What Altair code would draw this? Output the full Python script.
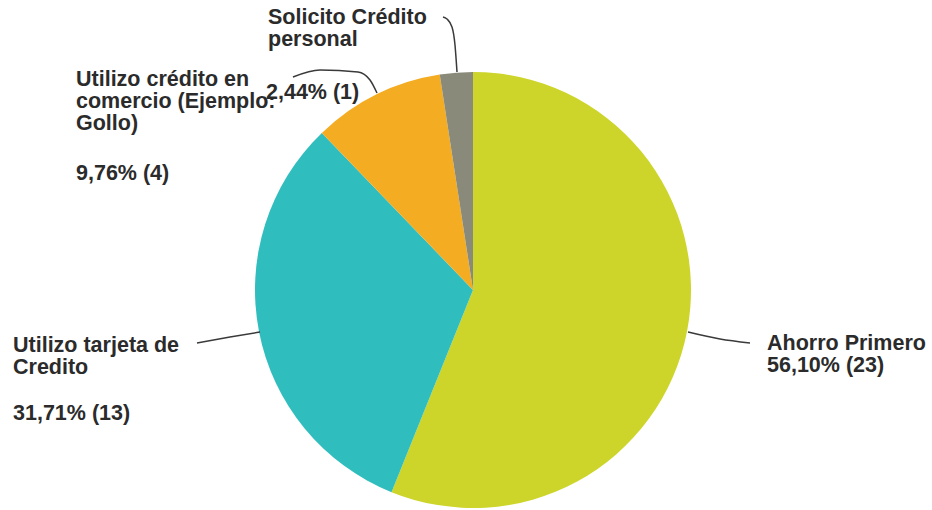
import altair as alt
import pandas as pd

# ---- data ----
categories = ["Ahorro Primero", "Utilizo tarjeta de\nCredito", "Utilizo crédito en\ncomercio (Ejemplo:\nGollo)", "Solicito Crédito\npersonal"]
counts = [23, 13, 4, 1]
colors = ["#CDD52B", "#2FBDBD", "#F4AD22", "#8A8A7B"]

total = sum(counts)
pct_labels = [f"{c / total * 100:.2f}".replace(".", ",") + f"% ({c})" for c in counts]

# ---- layout (label anchor positions, pixels) ----
name_x = [767, 13, 76, 268]
name_y = [350, 352, 86, 24]
pct_x = [767, 13, 76, 266]
pct_y = [372, 420, 180, 99]

leader_x = [[688, 720, 750], [260, 230, 197], [377, 370, 358, 320, 293], [457, 455, 452, 447, 443]]
leader_y = [[332, 339, 343], [332, 337, 343], [93, 80, 72, 70, 77], [72, 45, 27, 19, 17]]

CX, CY, R = 473, 290, 218
W, H = 932, 510

slices = pd.DataFrame({"cat": categories, "count": counts, "idx": range(len(counts))})

texts = pd.DataFrame({
    "x": name_x + pct_x,
    "y": name_y + pct_y,
    "t": categories + pct_labels,
})

lines_rows = []
for i, (xs, ys) in enumerate(zip(leader_x, leader_y)):
    for j, (lx, ly) in enumerate(zip(xs, ys)):
        lines_rows.append({"g": i, "o": j, "x": lx, "y": ly})
lines = pd.DataFrame(lines_rows)

xs = alt.Scale(domain=[0, W], range=[0, W])
ys = alt.Scale(domain=[0, H], range=[0, H])

pie = alt.Chart(slices).mark_arc(radius=R).encode(
    theta=alt.Theta("count:Q", stack=True),
    order=alt.Order("idx:Q"),
    color=alt.Color("cat:N", scale=alt.Scale(domain=categories, range=colors), legend=None),
    x=alt.value(CX),
    y=alt.value(CY),
)

leaders = alt.Chart(lines).mark_line(color="#3a3a3a", strokeWidth=1.5, interpolate="monotone").encode(
    x=alt.X("x:Q", scale=xs, axis=None),
    y=alt.Y("y:Q", scale=ys, axis=None),
    detail="g:N",
    order="o:Q",
)

labels = alt.Chart(texts).mark_text(
    align="left", baseline="alphabetic", font="Liberation Sans", fontSize=21.5,
    fontWeight="bold", color="#2b2b2b", lineBreak="\n", lineHeight=22,
).encode(
    x=alt.X("x:Q", scale=xs, axis=None),
    y=alt.Y("y:Q", scale=ys, axis=None),
    text="t:N",
)

chart = alt.layer(pie, leaders, labels).properties(
    width=W, height=H, autosize="none", padding=0, background="white"
).configure_view(stroke=None)

chart.save("out.html", embed_options={"renderer": "svg", "actions": False})
